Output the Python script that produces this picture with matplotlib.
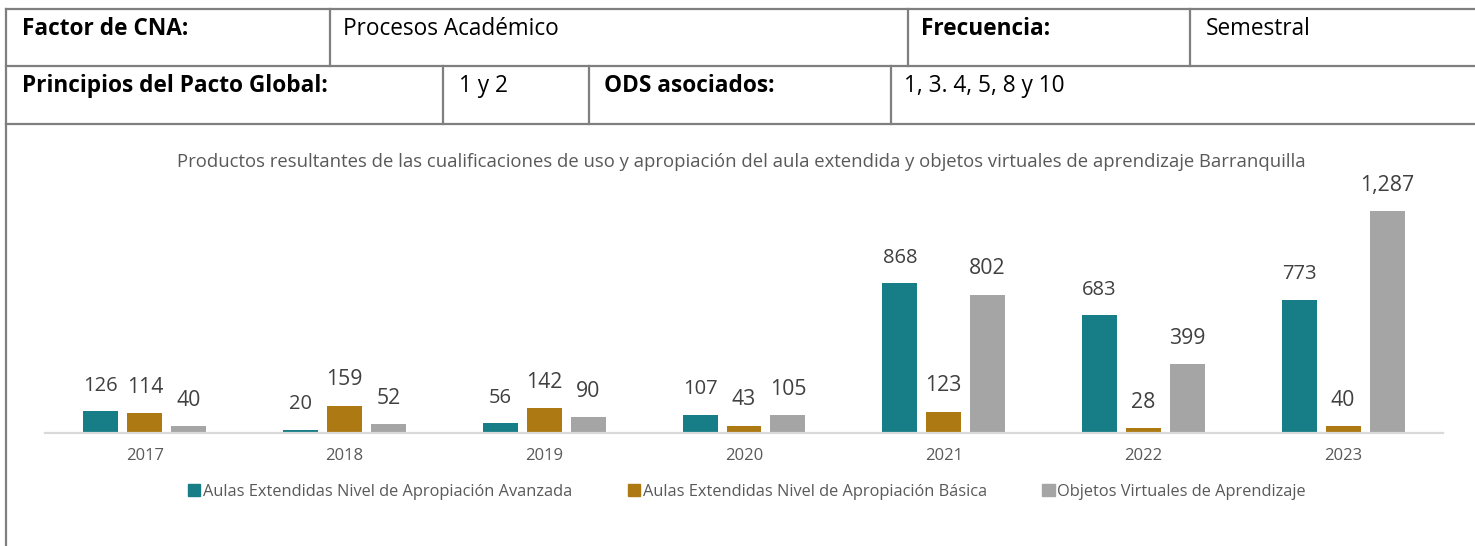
import numpy as np
import matplotlib.pyplot as plt
from matplotlib.lines import Line2D
from matplotlib.patches import Patch

plt.rcParams['font.family'] = ['Open Sans', 'DejaVu Sans']

W, H = 1475, 546

# data
years = ['2017', '2018', '2019', '2020', '2021', '2022', '2023']
avanzada = [126, 20, 56, 107, 868, 683, 773]
basica = [114, 159, 142, 43, 123, 28, 40]
objetos = [40, 52, 90, 105, 802, 399, 1287]
series_names = ['Aulas Extendidas Nivel de Apropiación Avanzada',
                'Aulas Extendidas Nivel de Apropiación Básica',
                'Objetos Virtuales de Aprendizaje']
colors = ['#177D86', '#AD7912', '#A5A5A5']

title = ('Productos resultantes de las cualificaciones de uso y apropiación '
         'del aula extendida y objetos virtuales de aprendizaje Barranquilla')

header_row1 = [('Factor de CNA:', 22, True), ('Procesos Académico', 343, False),
               ('Frecuencia:', 921, True), ('Semestral', 1206, False)]
header_row2 = [('Principios del Pacto Global:', 22, True), ('1 y 2', 459, False),
               ('ODS asociados:', 604, True), ('1, 3. 4, 5, 8 y 10', 904, False)]


def fx(px):
    return px / W


def fy(py):
    return 1 - py / H


fig = plt.figure(figsize=(W / 100, H / 100), dpi=100)

# table borders
lc = '#7F7F7F'
lw = 1.6
def hline(y, x0=6, x1=W):
    fig.add_artist(Line2D([fx(x0), fx(x1)], [fy(y), fy(y)], color=lc, lw=lw))
def vline(x, y0, y1):
    fig.add_artist(Line2D([fx(x), fx(x)], [fy(y0), fy(y1)], color=lc, lw=lw))

hline(9)
hline(66)
hline(124)
vline(6, 9, H)
for x in [330, 908, 1190]:
    vline(x, 9, 66)
for x in [443, 589, 891]:
    vline(x, 66, 124)

for txt, x, bold in header_row1:
    fig.text(fx(x), fy(29), txt, fontsize=16.3, va='center', ha='left',
             fontweight='bold' if bold else 'normal', color='black')
for txt, x, bold in header_row2:
    fig.text(fx(x), fy(86), txt, fontsize=16.3, va='center', ha='left',
             fontweight='bold' if bold else 'normal', color='black')

fig.text(fx(741), fy(162), title, fontsize=13.3, color='#595959',
         ha='center', va='center')

# chart
ax = fig.add_axes([fx(45), fy(433), fx(1443) - fx(45), (433 - 174) / H])
x = np.arange(len(years))
step = 0.22
bw = 0.175
data = [avanzada, basica, objetos]
for i, (vals, c, name) in enumerate(zip(data, colors, series_names)):
    bars = ax.bar(x + (i - 1) * step, vals, bw, color=c, label=name)
    ax.bar_label(bars, labels=[f'{v:,}' for v in vals], padding=11,
                 fontsize=14.5 if i == 0 else 15.3, color='#404040')

ax.set_xlim(-0.5, len(years) - 0.5)
ax.set_ylim(0, 1500)
ax.set_xticks(x)
ax.set_xticklabels(years, fontsize=12, color='#595959')
ax.tick_params(axis='x', length=0, pad=11)
ax.set_yticks([])
for s in ['top', 'right', 'left']:
    ax.spines[s].set_visible(False)
ax.spines['bottom'].set_color('#D9D9D9')
ax.spines['bottom'].set_linewidth(1.6)

handles = [Patch(color=c) for c in colors]
fig.legend(handles, series_names, loc='center', bbox_to_anchor=(fx(747), fy(492)),
           ncol=3, frameon=False, fontsize=11.8, labelcolor='#595959',
           handlelength=0.75, handleheight=0.75, handletextpad=0.15,
           columnspacing=3.4)

fig.savefig('out.png', dpi=100)
